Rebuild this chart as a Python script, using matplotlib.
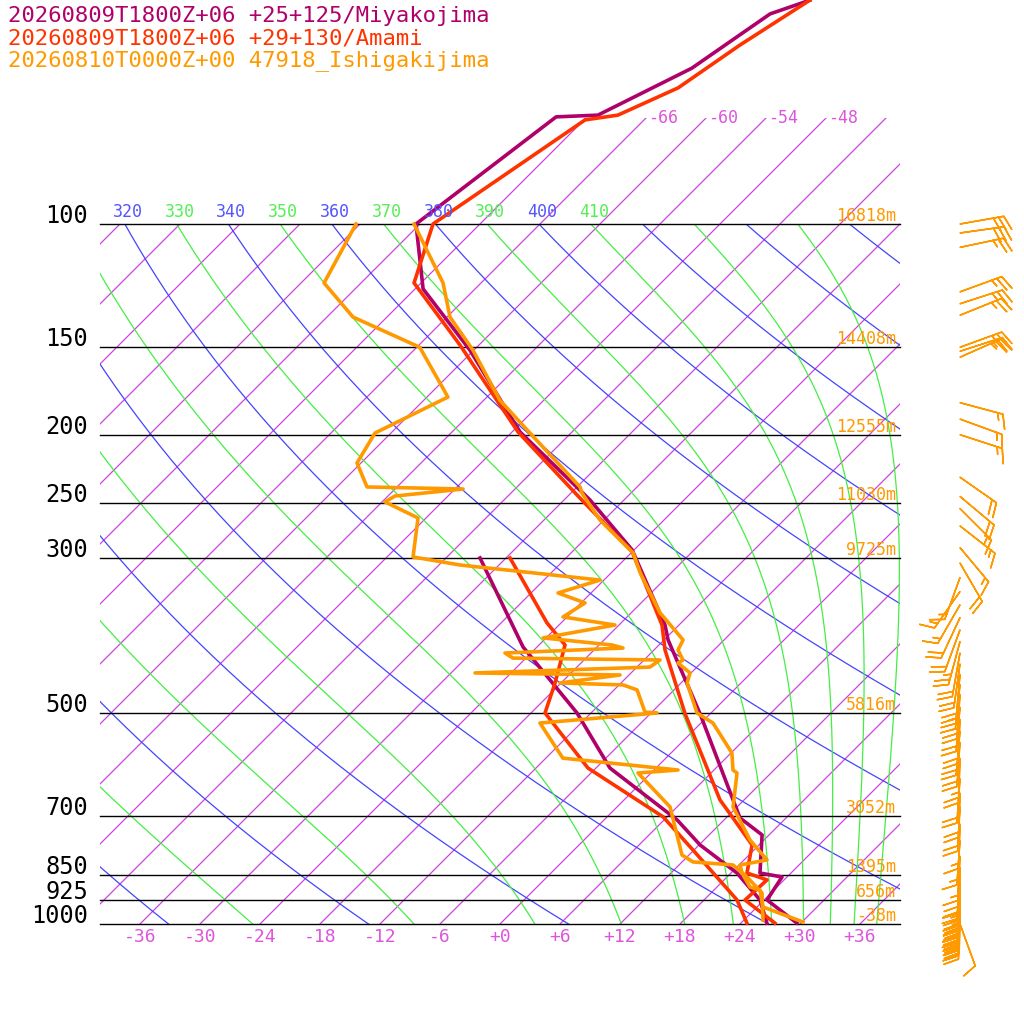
import numpy as np
import matplotlib.pyplot as plt
from matplotlib.patches import Rectangle

# ---- data ----
titles = ['20260809T1800Z+06 +25+125/Miyakojima',
          '20260809T1800Z+06 +29+130/Amami',
          '20260810T0000Z+00 47918_Ishigakijima']
colors = ['#b0006a', '#ff3300', '#ff9900']

miya_p = [47.9, 50.1, 59.9, 69.9, 70.3, 100, 123.8, 151.4, 198.2, 247.9, 292.1, 374, 392.8, 501,
          705.6, 746, 845.6, 856.7, 924, 997]
miya_t = [-61.4, -64.0, -66.4, -71.1, -75.1, -78.4, -71.2, -60.4, -47.2, -33.4, -24.2, -13.4, -11.6,
          -1.0, 13.4, 17.3, 20.9, 23.5, 24.3, 29.6]
miya_dp = [300, 402, 499.5, 598.7, 710, 771, 845.6, 924, 997]
miya_td = [-38.6, -25.4, -13.4, -4.6, 7.3, 12.1, 18.6, 23.6, 26.6]

amami_p = [47.9, 55.5, 63.9, 69.9, 71.0, 100, 121.4, 148.9, 198.2, 248, 294, 374, 406, 501, 665,
           705.6, 771, 845.6, 865, 924, 997]
amami_t = [-61.4, -63.9, -65.8, -69.1, -71.9, -76.7, -72.7, -61.9, -47.4, -34.2, -24.0, -13.7, -10.9,
           -2.5, 9.6, 12.7, 17.3, 19.6, 22.3, 22.1, 27.4]
amami_dp = [300, 371.5, 399.4, 452.5, 499.5, 598.7, 703, 784, 924, 997]
amami_td = [-35.6, -25.4, -21.4, -18.6, -16.6, -6.8, 5.6, 11.9, 21.3, 24.6]

ishi_p = [100, 121.4, 135.8, 151.4, 178.5, 198.9, 237.5, 242.3, 264.8, 295, 315, 359.4, 392.8, 406,
          419.6, 423.8, 437.9, 452.5, 499.5, 516.3, 569.9, 602.6, 608.5, 680.4, 758.6, 810, 823.5,
          845.6, 885.5, 894.4, 945.6, 993.4]
ishi_t = [-78.6, -69.8, -65.7, -60.1, -52.4, -46.1, -35.7, -34.9, -30.4, -23.8, -21.1, -15.1, -10.1,
          -9.6, -8.1, -8.3, -6.1, -5.4, -1.4, 1.2, 6.1, 7.9, 8.6, 11.6, 16.6, 20.3, 18.1, 19.1, 21.3,
          22.6, 24.6, 30.1]
ishi_dp = [100, 121.4, 135.8, 150, 176.7, 198.9, 219.5, 237.5, 239.1, 244.7, 249.5, 263, 299, 307,
           322.6, 336.6, 347.8, 364.2, 374, 390.2, 399.4, 403.4, 410.1, 417, 419.6, 429.5, 437.9,
           440.8, 452.5, 455.5, 463, 498, 499.5, 516.3, 579.5, 602.6, 608.5, 680.4, 797, 815.4,
           823.5, 856.7, 903, 987]
ishi_td = [-84.4, -81.7, -75.4, -65.7, -57.9, -61.6, -60.4, -57.0, -47.2, -53.3, -53.7, -48.8, -45.4,
           -39.9, -24.4, -27.3, -23.6, -24.4, -18.4, -24.3, -16.7, -15.3, -26.6, -25.3, -10.4, -10.7,
           -27.6, -12.9, -18.1, -11.6, -9.7, -6.7, -5.4, -16.1, -10.3, 2.4, -1.3, 5.3, 11.3, 13.1,
           17.4, 20.0, 23.1, 25.9]

# Ishigakijima winds: pressure, direction (deg from), speed (kt)
wind_p = [100, 103, 108, 125, 130, 135, 150, 152, 155, 180, 190, 200, 230, 245, 255, 270, 290,
          305, 320, 335, 350, 365, 380, 395, 410, 425, 440, 455, 470, 490, 510, 530, 550, 580,
          620, 650, 680, 720, 760, 800, 830, 850, 870, 880, 890, 900, 910, 920, 930, 940, 950,
          960, 970, 1000]
wind_dir = [80, 82, 78, 70, 72, 68, 70, 72, 66, 105, 110, 108, 125, 130, 135, 128, 140,
            150, 200, 215, 210, 205, 200, 195, 190, 188, 185, 186, 184, 185, 183, 185, 184, 182,
            184, 182, 183, 182, 184, 183, 182, 184, 183, 182, 181, 183, 182, 184, 183, 182, 181,
            183, 182, 160]
wind_spd = [30, 30, 25, 25, 25, 25, 25, 25, 25, 15, 15, 15, 20, 20, 15, 15, 15,
            20, 15, 15, 15, 20, 20, 25, 20, 20, 20, 25, 25, 20, 20, 20, 20, 25,
            20, 20, 20, 15, 15, 15, 20, 20, 25, 25, 25, 25, 25, 20, 20, 20, 20,
            20, 20, 10]

plevels = [100, 150, 200, 250, 300, 500, 700, 850, 925, 1000]
heights = ['16818m', '14408m', '12555m', '11030m', '9725m', '5816m', '3052m', '1395m', '656m', '-38m']
xticks = [-36, -30, -24, -18, -12, -6, 0, 6, 12, 18, 24, 30, 36]

SKEW = 70.0


def skx(t, p):
    return np.asarray(t, float) + SKEW * np.log10(1000.0 / np.asarray(p, float))


def moist_adiabat(t0, p):
    # pseudo-adiabat integrated from p[0] (K in, K out)
    Rd, cp, Lv, eps = 287.0, 1005.0, 2.5e6, 0.622
    out = [t0]
    T = t0
    for i in range(1, len(p)):
        dlnp = np.log(p[i] / p[i - 1])
        for k in range(4):
            tc = T - 273.15
            es = 6.112 * np.exp(17.67 * tc / (tc + 243.5))
            pm = p[i - 1] * np.exp(dlnp * k / 4)
            rs = eps * es / (pm - es)
            dT = (Rd * T + Lv * rs) / (cp + Lv ** 2 * rs * eps / (Rd * T ** 2))
            T = T + dT * dlnp / 4
        out.append(T)
    return np.array(out)


fig = plt.figure(figsize=(10.24, 10.24), dpi=100)
ax = fig.add_axes([0, 0, 1, 1])
ax.set_yscale('log')
ax.set_xlim(-50, 52.4)
ax.set_ylim(1000 * 10 ** (100 / 700), 1000 * 10 ** (-924 / 700))
ax.axis('off')

mono = 'DejaVu Sans Mono'
box = Rectangle((-40, 100), 80, 900, transform=ax.transData, fill=False, lw=0)
ax.add_patch(box)
box_top = Rectangle((-40, 70.6), 80, 930, transform=ax.transData, fill=False, lw=0)
ax.add_patch(box_top)
box_lab = Rectangle((-40, 80), 80, 30, transform=ax.transData, fill=False, lw=0)
ax.add_patch(box_lab)

# isotherms
for t in range(-150, 42, 6):
    pp = np.array([1000, 70.6]) if t >= -72 else np.array([1000, 100])
    ln, = ax.plot(skx([t, t], pp), pp, color='#cc44dd', lw=0.9)
    ln.set_clip_path(box_top if t >= -72 else box)
for t in [-66, -60, -54, -48]:
    ax.text(skx(t, 70.6) + 0.2, 70.6, str(t), color='#dd55dd', fontsize=12, family=mono,
            ha='left', va='center')

pp = np.logspace(3, 2, 200)
# dry adiabats
for th in range(220, 500, 20):
    tt = th * (pp / 1000) ** 0.286 - 273.15
    ln, = ax.plot(skx(tt, pp), pp, color='#4444ff', lw=0.9)
    ln.set_clip_path(box)
# moist adiabats
pu = np.logspace(2, 3, 300)
for th in range(230, 460, 20):
    tt = moist_adiabat(th * 0.1 ** 0.286, pu) - 273.15
    ln, = ax.plot(skx(tt, pu), pu, color='#44ee44', lw=0.9)
    ln.set_clip_path(box)
for th in range(310, 420, 10):
    x = skx(th * 0.1 ** 0.286 - 273.15, 100)
    c = '#5555ff' if th % 20 == 0 else '#55ee55'
    txt = ax.text(x + 0.3, 1000 * 10 ** (-712 / 700), str(th), color=c, fontsize=12, family=mono,
                  ha='center', va='center')
    txt.set_clip_on(True)
    txt.set_clip_path(box_lab)

# pressure lines
for p, h in zip(plevels, heights):
    ax.plot([-40, 40], [p, p], color='black', lw=1)
    ax.text(-41.2, p * 10 ** (-8 / 700), str(p), fontsize=17, family=mono, ha='right', va='center')
    ax.text(39.6, p * 10 ** (-8 / 700), h, fontsize=12, family=mono, ha='right', va='center',
            color='#ff9900')

for t in xticks:
    lab = ('+%d' % t) if t >= 0 else str(t)
    ax.text(t, 1000 * 10 ** (13 / 700), lab, fontsize=13, family=mono, ha='center', va='center',
            color='#dd55dd')

# profiles
for (p, t, dp, td), c in zip([(miya_p, miya_t, miya_dp, miya_td),
                              (amami_p, amami_t, amami_dp, amami_td),
                              (ishi_p, ishi_t, ishi_dp, ishi_td)], colors):
    ax.plot(skx(t, p), p, color=c, lw=2.6)
    ax.plot(skx(td, dp), dp, color=c, lw=2.6)

# wind barbs
wd = np.radians(wind_dir)
u = -np.array(wind_spd) * np.sin(wd)
v = -np.array(wind_spd) * np.cos(wd)
ax.barbs(np.full(len(wind_p), 46.0), wind_p, u, v, color='#ff9900', length=8, lw=1.1,
         sizes=dict(height=0.32, spacing=0.12))

for i, (s, c) in enumerate(zip(titles, colors)):
    fig.text(0.008, 0.994 - i * 0.0215, s, color=c, fontsize=16, family=mono, ha='left', va='top')

fig.savefig('out.png', dpi=100)
